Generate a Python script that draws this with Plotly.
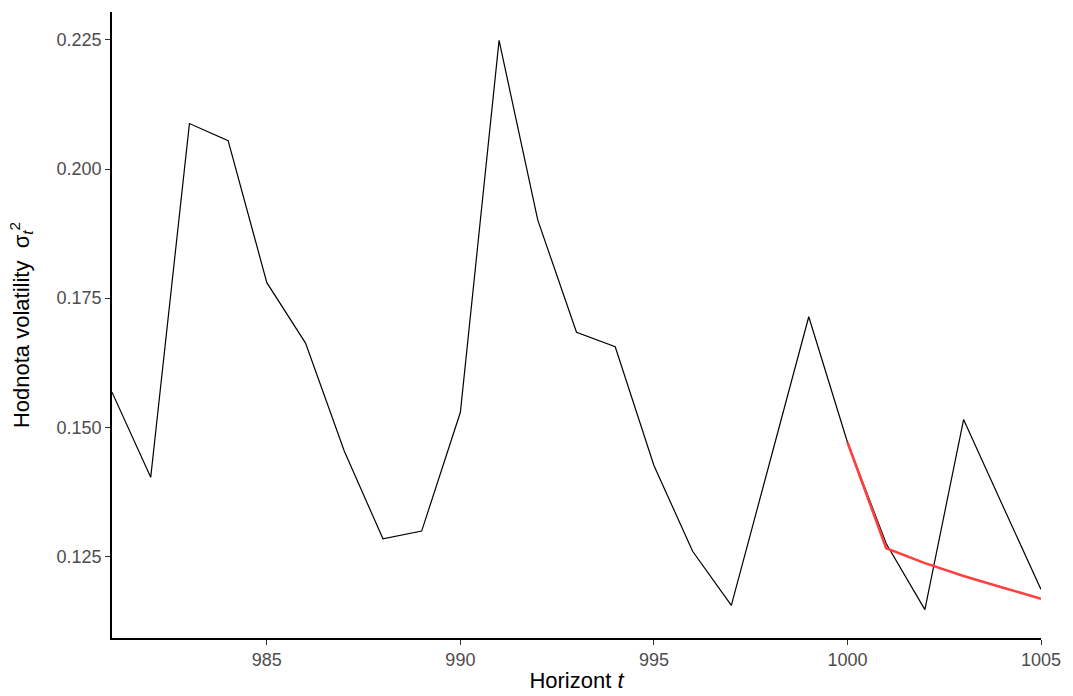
import plotly.graph_objects as go

t_obs = list(range(981, 1006))
sigma2_obs = [0.1568, 0.1403, 0.2088, 0.2055, 0.1780, 0.1663, 0.1454, 0.1284, 0.1299, 0.1529,
              0.2249, 0.1901, 0.1684, 0.1656, 0.1426, 0.1260, 0.1155, 0.1436, 0.1714, 0.1471,
              0.1275, 0.1147, 0.1515, 0.1350, 0.1186]

t_fc = [1000, 1001, 1002, 1003, 1004, 1005]
sigma2_fc = [0.1471, 0.1266, 0.1237, 0.1212, 0.1190, 0.1168]

y_ticks = [0.125, 0.150, 0.175, 0.200, 0.225]
x_ticks = [985, 990, 995, 1000, 1005]

fig = go.Figure()
fig.add_trace(go.Scatter(x=t_obs, y=sigma2_obs, mode="lines",
                         line=dict(color="black", width=1.2), showlegend=False))
fig.add_trace(go.Scatter(x=t_fc, y=sigma2_fc, mode="lines",
                         line=dict(color="#FF4040", width=2.6), showlegend=False))

font_family = "Liberation Sans, Arial, sans-serif"
axis_common = dict(showgrid=False, zeroline=False, showline=True, linecolor="black", linewidth=1.6,
                   ticks="outside", ticklen=5, tickwidth=1.3, tickcolor="#333333",
                   tickfont=dict(family=font_family, size=18, color="#4d4d4d"),
                   automargin=False)

fig.update_layout(
    width=1073, height=696,
    margin=dict(l=112, r=32, t=12, b=58),
    paper_bgcolor="white", plot_bgcolor="white",
    font=dict(family=font_family),
    xaxis=dict(range=[981, 1005], tickvals=x_ticks, ticktext=[str(v) for v in x_ticks],
               title=dict(text="Horizont <i>t</i>", font=dict(size=22, color="black"), standoff=3),
               **axis_common),
    yaxis=dict(range=[0.1092, 0.2304], tickvals=y_ticks, ticktext=[f"{v:.3f}" for v in y_ticks],
               title=dict(text="Hodnota volatility  σ<sub><i>t</i></sub><sup>2</sup>",
                          font=dict(size=22, color="black"), standoff=21),
               **axis_common),
)

fig.write_html("out.html")
